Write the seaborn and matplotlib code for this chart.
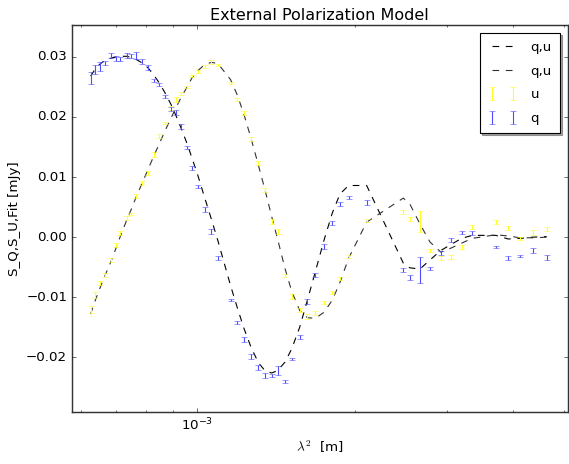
import numpy as np
import pandas as pd
import seaborn as sns
import matplotlib
matplotlib.use("Agg")
import matplotlib.pyplot as plt
from matplotlib.ticker import NullFormatter

# lambda^2 [m] of each channel
lam2 = [6.27e-4, 6.40e-4, 6.53e-4, 6.67e-4, 6.86e-4, 7.01e-4, 7.14e-4, 7.35e-4,
        7.49e-4, 7.65e-4, 7.86e-4, 8.06e-4, 8.27e-4, 8.47e-4, 8.68e-4, 8.92e-4,
        9.10e-4, 9.32e-4, 9.56e-4, 9.78e-4, 1.006e-3, 1.034e-3, 1.065e-3, 1.096e-3,
        1.159e-3, 1.194e-3, 1.229e-3, 1.266e-3, 1.309e-3, 1.350e-3, 1.388e-3, 1.424e-3,
        1.471e-3, 1.515e-3, 1.569e-3, 1.623e-3, 1.680e-3, 1.746e-3, 1.810e-3, 1.873e-3,
        1.945e-3, 2.105e-3, 2.472e-3, 2.545e-3, 2.660e-3, 2.779e-3, 2.916e-3, 3.051e-3,
        3.193e-3, 3.345e-3, 3.712e-3, 3.917e-3, 4.123e-3, 4.371e-3, 4.636e-3]

# Stokes q and errors
q = [0.0265, 0.0279, 0.0284, 0.0290, 0.0302, 0.0298, 0.0297, 0.0303,
     0.0302, 0.0302, 0.0292, 0.0283, 0.0261, 0.0254, 0.0234, 0.0213,
     0.0207, 0.0184, 0.0149, 0.0115, 0.0084, 0.0046, 0.0009, -0.0035,
     -0.0105, -0.0142, -0.0170, -0.0198, -0.0217, -0.0230, -0.0230, -0.0222,
     -0.0240, -0.0203, -0.0166, -0.0107, -0.0063, -0.0016, 0.0024, 0.0055,
     0.0066, 0.0058, -0.0055, -0.0067, -0.0055, -0.0052, -0.0026, -0.0005,
     0.0008, 0.0007, -0.0016, -0.0035, -0.0031, -0.0022, -0.0034]
q_err = [0.0010, 0.0008, 0.0007, 0.0004, 0.0004, 0.0004, 0.0003, 0.0004,
         0.0003, 0.0006, 0.0004, 0.0004, 0.0002, 0.0002, 0.0003, 0.0003,
         0.0004, 0.0004, 0.0002, 0.0004, 0.0003, 0.0004, 0.0004, 0.0003,
         0.0002, 0.0003, 0.0004, 0.0004, 0.0004, 0.0004, 0.0003, 0.0008,
         0.0003, 0.0002, 0.0004, 0.0004, 0.0004, 0.0004, 0.0003, 0.0003,
         0.0003, 0.0004, 0.0003, 0.0004, 0.0022, 0.0003, 0.0003, 0.0003,
         0.0003, 0.0003, 0.0002, 0.0003, 0.0002, 0.0004, 0.0004]

# Stokes u and errors
u = [-0.0121, -0.0096, -0.0076, -0.0063, -0.0038, -0.0013, 0.0007, 0.0032,
     0.0039, 0.0069, 0.0090, 0.0107, 0.0137, 0.0168, 0.0190, 0.0215,
     0.0229, 0.0239, 0.0250, 0.0268, 0.0276, 0.0284, 0.0292, 0.0287,
     0.0257, 0.0229, 0.0207, 0.0163, 0.0123, 0.0079, 0.0026, 0.0009,
     -0.0064, -0.0099, -0.0121, -0.0132, -0.0126, -0.0109, -0.0092, -0.0069,
     -0.0032, 0.0028, 0.0042, 0.0030, 0.0026, -0.0022, -0.0035, -0.0033,
     -0.0016, 0.0017, 0.0025, 0.0015, -0.0002, 0.0008, 0.0014]
u_err = [0.0006, 0.0005, 0.0003, 0.0003, 0.0003, 0.0004, 0.0004, 0.0003,
         0.0002, 0.0003, 0.0004, 0.0003, 0.0004, 0.0003, 0.0002, 0.0004,
         0.0004, 0.0002, 0.0002, 0.0002, 0.0003, 0.0003, 0.0003, 0.0002,
         0.0002, 0.0002, 0.0003, 0.0003, 0.0003, 0.0003, 0.0004, 0.0004,
         0.0003, 0.0004, 0.0003, 0.0004, 0.0003, 0.0003, 0.0003, 0.0003,
         0.0003, 0.0003, 0.0003, 0.0003, 0.0017, 0.0003, 0.0003, 0.0003,
         0.0003, 0.0003, 0.0003, 0.0003, 0.0003, 0.0004, 0.0003]

# model fits evaluated at the same channels
q_fit = [0.0268, 0.0280, 0.0288, 0.0294, 0.0298, 0.0300, 0.0301, 0.0301,
         0.0299, 0.0296, 0.0290, 0.0282, 0.0270, 0.0257, 0.0241, 0.0221,
         0.0204, 0.0182, 0.0157, 0.0132, 0.0100, 0.0066, 0.0030, -0.0006,
         -0.0081, -0.0118, -0.0152, -0.0182, -0.0209, -0.0223, -0.0226, -0.0222,
         -0.0208, -0.0186, -0.0150, -0.0105, -0.0058, -0.0005, 0.0040, 0.0072,
         0.0086, 0.0086, -0.0043, -0.0051, -0.0053, -0.0038, -0.0022, -0.0012,
         -0.0002, 0.0003, 0.0003, -0.0003, -0.0002, 0.0000, 0.0001]
u_fit = [-0.0128, -0.0105, -0.0085, -0.0065, -0.0040, -0.0018, 0.0001, 0.0029,
         0.0046, 0.0066, 0.0090, 0.0112, 0.0135, 0.0155, 0.0176, 0.0198,
         0.0214, 0.0232, 0.0249, 0.0265, 0.0278, 0.0287, 0.0291, 0.0289,
         0.0262, 0.0236, 0.0204, 0.0166, 0.0120, 0.0076, 0.0034, -0.0003,
         -0.0052, -0.0090, -0.0122, -0.0134, -0.0135, -0.0125, -0.0105, -0.0075,
         -0.0035, 0.0025, 0.0065, 0.0055, 0.0022, -0.0008, -0.0025, -0.0018,
         -0.0010, -0.0002, 0.0004, 0.0002, -0.0001, -0.0001, 0.0000]

df = pd.DataFrame({"lam2": lam2, "q_fit": q_fit, "u_fit": u_fit})

plt.style.use("classic")
fig = plt.figure(figsize=(569 / 80, 464 / 80), dpi=80, facecolor="white")
ax = fig.add_axes([0.126, 0.112, 0.872, 0.834])

sns.lineplot(data=df, x="lam2", y="q_fit", ax=ax, color="k", linestyle="--",
             linewidth=1.0, label="q,u")
sns.lineplot(data=df, x="lam2", y="u_fit", ax=ax, color="#333333", linestyle="--",
             linewidth=1.0, label="q,u")
eu = ax.errorbar(lam2, u, yerr=u_err, fmt="none", ecolor="#ffff22", capsize=3,
                 elinewidth=1, label="u")
eq = ax.errorbar(lam2, q, yerr=q_err, fmt="none", ecolor="#4d4dff", capsize=3,
                 elinewidth=1, label="q")

ax.set_xscale("log")
ax.set_xlim(5.77e-4, 5.09e-3)
ax.set_ylim(-0.0291, 0.0353)
ax.xaxis.set_minor_formatter(NullFormatter())
ax.set_yticks([-0.02, -0.01, 0.0, 0.01, 0.02, 0.03])
for s in ax.spines.values():
    s.set_linewidth(1.3)
    s.set_color("#333333")

ax.set_title("External Polarization Model", fontsize=14.4)
ax.set_xlabel(r"$\lambda^2$  [m]", fontsize=12)
ax.set_ylabel("S_Q,S_U,Fit [mJy]", fontsize=12)

handles, labels = ax.get_legend_handles_labels()
order = ["q,u", "q,u", "u", "q"]
lines = [h for h, l in zip(handles, labels) if l == "q,u"]
ax.legend(lines + [eu, eq], order, loc="upper right", shadow=True,
          fancybox=False, numpoints=2, fontsize=12, borderaxespad=0.6,
          labelspacing=0.8, handlelength=2.2, handletextpad=1.0, borderpad=0.6)

fig.savefig("out.png", dpi=80, facecolor="white")
